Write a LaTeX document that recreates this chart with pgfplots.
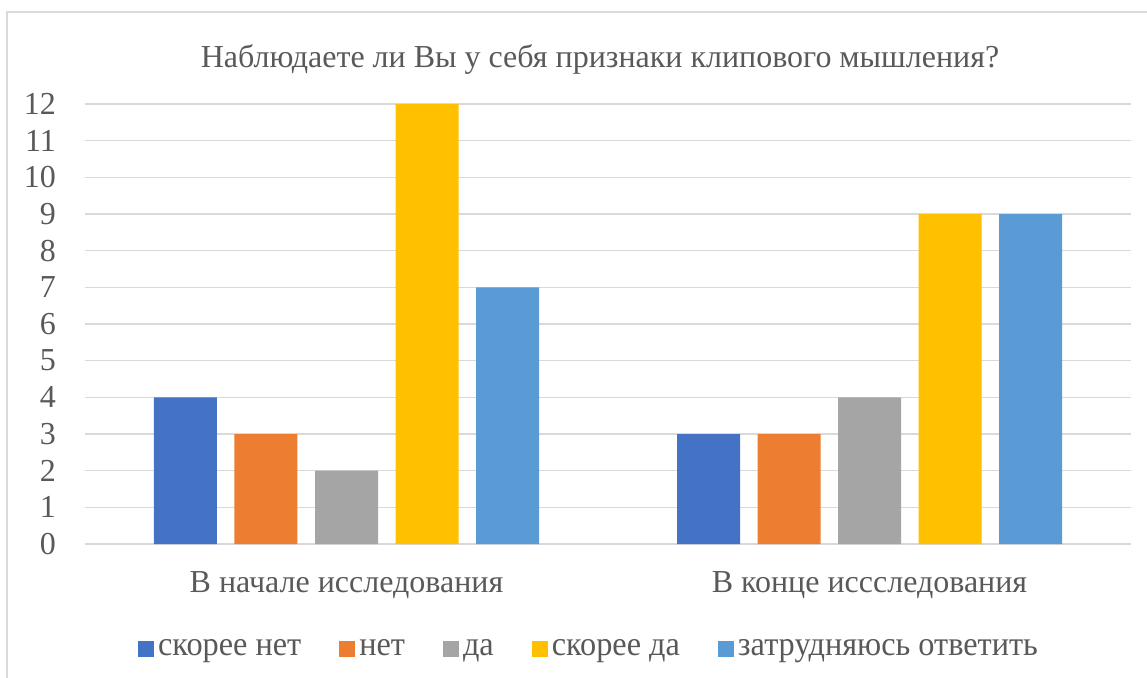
\documentclass[border=0pt]{standalone}
\usepackage{fontspec}
\setmainfont{Liberation Serif}
\newfontfamily\legfont[FakeStretch=0.95]{Liberation Serif}
\usepackage{pgfplots}
\pgfplotsset{compat=1.18}
\definecolor{c1}{HTML}{4472C4}
\definecolor{c2}{HTML}{ED7D31}
\definecolor{c3}{HTML}{A5A5A5}
\definecolor{c4}{HTML}{FFC000}
\definecolor{c5}{HTML}{5B9BD5}
\definecolor{txt}{HTML}{595959}
\definecolor{gridc}{HTML}{D9D9D9}
\pgfplotsset{sq legend/.style={legend image code/.code={\fill[##1] (0pt,-4pt) rectangle (8pt,4pt);}}}
\begin{document}
\begin{tikzpicture}
\useasboundingbox (-42.5pt,-66.5pt) rectangle (531pt,272pt);
\draw[gridc, line width=0.75pt] (-39pt,-80pt) -- (-39pt,266pt) -- (545pt,266pt);
\begin{axis}[
  at={(0pt,0pt)}, anchor=south west,
  scale only axis, width=523pt, height=220pt,
  xmin=-0.5, xmax=1.5, ymin=0, ymax=12,
  ybar=8.75pt, bar width=31.5pt,
  xtick={0,1}, xticklabels={В начале исследования, В конце иссследования},
  ytick={0,...,12},
  major tick length=0pt,
  axis line style={draw=none},
  ymajorgrids, grid style={gridc, line width=0.75pt},
  /pgf/number format/assume math mode=true,
  yticklabel style={font=\fontsize{16}{16}\selectfont, text=txt, xshift=-11pt},
  xticklabel style={font=\fontsize{16}{16}\selectfont, text=txt, yshift=-10pt},
  every axis plot/.append style={draw=none, sq legend},
  legend columns=5,
  legend style={draw=none, fill=none, at={(axis description cs:0.4828,-0.2386)}, anchor=center,
    font=\legfont\fontsize{17}{17}\selectfont, text=txt,
    /tikz/every even column/.append style={column sep=17pt}},
  title={Наблюдаете ли Вы у себя признаки клипового мышления?},
  title style={font=\fontsize{16}{16}\selectfont, text=txt, yshift=5.5pt, xshift=-4pt},
]
\addplot[fill=c1] coordinates {(0,4) (1,3)};
\addplot[fill=c2] coordinates {(0,3) (1,3)};
\addplot[fill=c3] coordinates {(0,2) (1,4)};
\addplot[fill=c4] coordinates {(0,12) (1,9)};
\addplot[fill=c5] coordinates {(0,7) (1,9)};
\legend{скорее нет, нет, да, скорее да, затрудняюсь ответить}
\end{axis}
\end{tikzpicture}
\end{document}
